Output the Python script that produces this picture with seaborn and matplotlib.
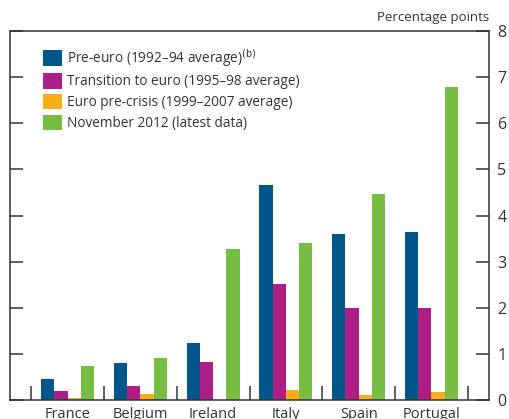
import matplotlib.pyplot as plt
import pandas as pd
import seaborn as sns
from matplotlib.patches import Patch

countries = ["France", "Belgium", "Ireland", "Italy", "Spain", "Portugal"]
series = [
    "Pre-euro (1992–94 average)",
    "Transition to euro (1995–98 average)",
    "Euro pre-crisis (1999–2007 average)",
    "November 2012 (latest data)",
]
pre_euro = [0.46, 0.80, 1.24, 4.66, 3.60, 3.64]
transition = [0.20, 0.30, 0.83, 2.52, 2.00, 2.00]
pre_crisis = [0.05, 0.13, -0.03, 0.22, 0.11, 0.17]
nov_2012 = [0.74, 0.91, 3.28, 3.41, 4.46, 6.79]
colors = ["#00558B", "#AE1E87", "#FCAB1B", "#76BD42"]

rows = []
for name, vals in zip(series, [pre_euro, transition, pre_crisis, nov_2012]):
    for c, v in zip(countries, vals):
        rows.append({"Country": c, "Series": name, "Value": v})
df = pd.DataFrame(rows)

sns.set_theme(style="white")
plt.rcParams["font.family"] = ["Open Sans", "DejaVu Sans"]
text_col = "#333333"

fig = plt.figure(figsize=(5.09, 4.19), dpi=100)
ax = fig.add_axes([10 / 509, 19 / 419, 479 / 509, 369 / 419])

sns.barplot(data=df, x="Country", y="Value", hue="Series", palette=colors,
            width=0.73, gap=0, ax=ax, legend=False, saturation=1,
            linewidth=0, edgecolor="none")

ax.set_xlim(-0.79, 5.79)
ax.set_ylim(0, 8)
ax.set_xlabel("")
ax.set_ylabel("")
for s in ax.spines.values():
    s.set_color(text_col)
    s.set_linewidth(1.1)

ax.set_yticks(range(0, 9))
ax.tick_params(axis="y", which="major", direction="in", length=9.5, width=1.1,
               color=text_col, left=True, right=True, labelleft=False,
               labelright=True, labelsize=11.5, labelcolor=text_col, pad=6)
ax.set_xticks([i - 0.5 for i in range(7)], minor=True)
ax.tick_params(axis="x", which="major", length=0, labelsize=10.5,
               labelcolor=text_col, pad=5)
ax.tick_params(axis="x", which="minor", direction="in", length=10, width=1.1,
               color=text_col, bottom=True)

handles = [Patch(facecolor=c, edgecolor="none") for c in colors]
labels = [series[0] + "$^{\\rm (b)}$"] + series[1:]
leg = ax.legend(handles, labels, loc="upper left", bbox_to_anchor=(0.058, 0.972),
                frameon=False, fontsize=9.8, handlelength=1.4, handleheight=1.4,
                handletextpad=0.35, labelspacing=0.32, borderaxespad=0)
for t in leg.get_texts():
    t.set_color(text_col)

fig.text(489 / 509, 1 - 18 / 419, "Percentage points", ha="right", va="center",
         fontsize=9.5, color=text_col)

fig.savefig("out.png", dpi=100, facecolor="white")
